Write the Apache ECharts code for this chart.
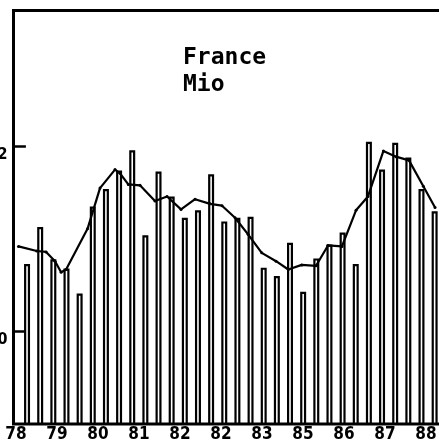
<!DOCTYPE html>
<html>
<head>
<meta charset="utf-8">
<script src="https://cdn.jsdelivr.net/npm/echarts@6/dist/echarts.min.js"></script>
<style>
  html, body { margin: 0; padding: 0; background: #fff; }
  #chart { width: 439px; height: 448px; }
</style>
</head>
<body>
<div id="chart"></div>
<script>
// bars: one per period, position 1..32 along the bottom
const barValues = [10.73, 11.13, 10.78, 10.68, 10.41, 11.35, 11.54, 11.74, 11.96, 11.04,
  11.73, 11.46, 11.23, 11.31, 11.70, 11.19, 11.23, 11.24, 10.69, 10.60,
  10.96, 10.43, 10.79, 10.94, 11.07, 10.73, 12.05, 11.75, 12.04, 11.88,
  11.54, 11.30]

// smoothed line, vertices (same period units as the bars)
const lineAt = [0.35, 1.74, 2.45, 3.13, 3.59, 3.97, 5.60, 6.55, 7.69, 8.07, 8.70, 9.59,
  10.73, 11.65, 12.71, 13.78, 14.92, 15.83, 16.82, 17.81, 18.85, 19.94, 20.87, 21.89,
  22.98, 23.89, 24.95, 26.02, 26.93, 28.10, 29.06, 30.05, 31.14, 32.03]
const lineValues = [10.92, 10.87, 10.86, 10.76, 10.64, 10.67, 11.11, 11.55, 11.75, 11.71, 11.59, 11.58,
  11.41, 11.46, 11.32, 11.43, 11.38, 11.36, 11.23, 11.05, 10.85, 10.76, 10.67, 10.72,
  10.71, 10.93, 10.92, 11.31, 11.46, 11.95, 11.89, 11.85, 11.57, 11.34]

// year axis (labels as printed on the original, incl. the doubled 82)
const yearTicks = [78, 79, 80, 81, 82, 83, 84, 85, 86, 87, 88]
const yearLabels = ['78', '79', '80', '81', '82', '82', '83', '85', '86', '87', '88']

const yTicks = [10, 12]

const narrow = "'Liberation Sans Narrow', 'DejaVu Sans Condensed', 'Liberation Sans', sans-serif"

const chart = echarts.init(document.getElementById('chart'), null, { renderer: 'canvas' })

chart.setOption({
  animation: false,
  backgroundColor: '#fff',
  title: {
    text: 'France\nMio',
    left: 178,
    top: 40,
    textStyle: {
      fontFamily: "'DejaVu Sans Mono', 'Liberation Mono', monospace",
      fontWeight: 'bold',
      fontSize: 23,
      lineHeight: 27,
      color: '#000',
    },
  },
  grid: {
    show: true,
    left: 13.5,
    top: 10.5,
    right: -3,
    bottom: 24,
    containLabel: false,
    outerBoundsMode: 'none',
    borderColor: '#000',
    borderWidth: 3,
  },
  xAxis: [
    {
      type: 'value',
      min: -0.03,
      max: 32.56,
      axisLine: { show: false },
      axisTick: { show: false },
      axisLabel: { show: false },
      splitLine: { show: false },
    },
    {
      type: 'value',
      position: 'bottom',
      min: 77.94,
      max: 88.39,
      axisLine: { show: false },
      axisTick: { show: false },
      splitLine: { show: false },
      axisLabel: {
        customValues: yearTicks,
        margin: 2,
        fontFamily: narrow,
        fontWeight: 'bold',
        fontSize: 17,
        color: '#000',
        formatter: v => yearLabels[yearTicks.indexOf(v)],
      },
    },
  ],
  yAxis: {
    type: 'value',
    min: 9,
    max: 13.47,
    axisLine: { show: false },
    splitLine: { show: false },
    axisTick: {
      show: true,
      customValues: yTicks,
      inside: true,
      length: 12,
      lineStyle: { color: '#000', width: 2.5 },
    },
    axisLabel: {
      customValues: yTicks,
      margin: 6,
      verticalAlign: 'top',
      fontFamily: narrow,
      fontWeight: 'bold',
      fontSize: 16,
      color: '#000',
    },
  },
  series: [
    {
      type: 'bar',
      xAxisIndex: 0,
      data: barValues.map((v, i) => [i + 1, v]),
      barWidth: 6,
      itemStyle: { color: 'rgba(0,0,0,0)', borderColor: '#000', borderWidth: 2.2 },
      z: 2,
    },
    {
      type: 'line',
      xAxisIndex: 0,
      data: lineAt.map((x, i) => [x, lineValues[i]]),
      symbol: 'circle',
      symbolSize: 3,
      itemStyle: { color: '#000' },
      lineStyle: { color: '#000', width: 2.2 },
      z: 3,
    },
  ],
})
</script>
</body>
</html>
